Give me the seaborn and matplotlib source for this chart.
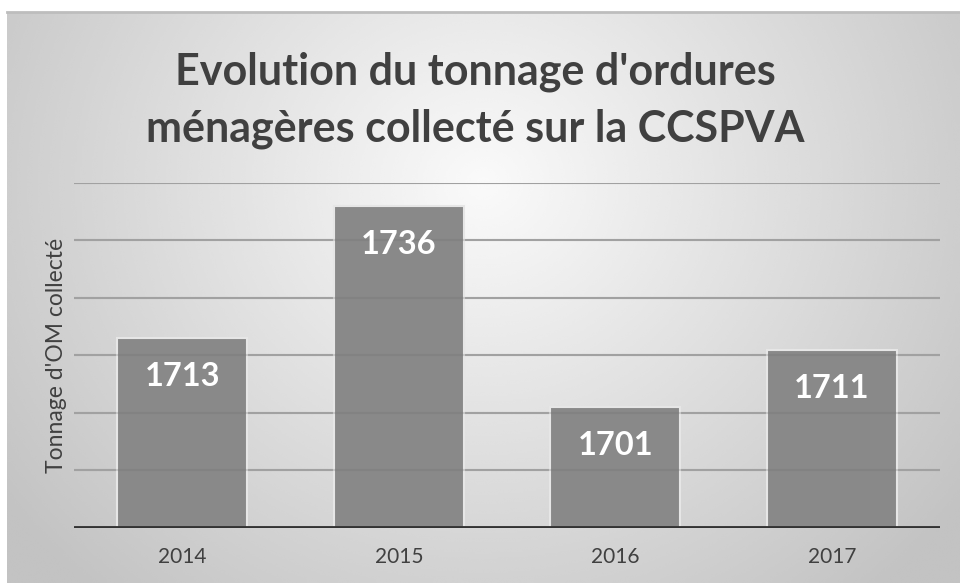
import numpy as np
import pandas as pd
import seaborn as sns
from matplotlib import pyplot as plt

years = ['2014', '2015', '2016', '2017']
tonnage = [1713, 1736, 1701, 1711]
grid_ticks = [1690, 1700, 1710, 1720, 1730, 1740]

title = "Evolution du tonnage d'ordures\nménagères collecté sur la CCSPVA"
y_label = "Tonnage d'OM collecté"

sns.set_theme(style='white')
plt.rcParams['font.family'] = ['Lato', 'DejaVu Sans']

df = pd.DataFrame({'annee': years, 'tonnage': tonnage})

fig = plt.figure(figsize=(9.6, 5.85), dpi=100)
fig.patch.set_facecolor('white')

# fond en degrade radial, comme dans Excel
bg = fig.add_axes([7 / 960, 2 / 585, 953 / 960, 571 / 585])
yy, xx = np.mgrid[0:1:300j, 0:1:500j]
d = np.sqrt(((xx - 0.5) / 0.62) ** 2 + ((yy - 0.3) / 0.95) ** 2)
bg.imshow(250 - 55 * np.clip(d, 0, 1), cmap='gray', vmin=0, vmax=255,
          aspect='auto', extent=(0, 1, 1, 0), interpolation='bicubic')
bg.set_xticks([])
bg.set_yticks([])
for side in ['left', 'right', 'bottom']:
    bg.spines[side].set_visible(False)
bg.spines['top'].set_color('#bdbdbd')
bg.spines['top'].set_linewidth(2)

ax = fig.add_axes([74 / 960, 57.5 / 585, 866 / 960, 344.5 / 585])
ax.set_facecolor('none')
sns.barplot(data=df, x='annee', y='tonnage', color='#898989', saturation=1,
            width=0.6, edgecolor='#e6e6e6', linewidth=1.5, ax=ax, zorder=3)
ax.set_ylim(1680, 1740)
ax.set_xlim(-0.5, 3.5)
ax.set_yticks(grid_ticks)
ax.set_yticklabels([])
for g in grid_ticks:
    ax.axhline(g, color='#b3b3b3', linewidth=1.5, zorder=1)
    # les barres sont un peu transparentes : la grille se devine dessous
    ax.axhline(g, color='#6e6e6e', linewidth=1.5, alpha=0.25, zorder=3.5)
ax.axhline(1680, color='#333333', linewidth=3.5, zorder=4)
for side in ['left', 'right', 'top', 'bottom']:
    ax.spines[side].set_visible(False)
ax.tick_params(axis='both', length=0)
ax.tick_params(axis='x', labelsize=15, labelcolor='#404040', pad=14)

for i, v in enumerate(tonnage):
    ax.annotate(str(v), (i, v), xytext=(0, -28), textcoords='offset points',
                ha='center', va='center', fontsize=23.5, fontweight='bold',
                color='white', zorder=5)

ax.set_xlabel('')
ax.set_ylabel(y_label, fontsize=16.5, color='#404040')
ax.yaxis.set_label_coords(-0.008, 0.5)

fig.text(0.495, 0.828, title, ha='center', va='center', fontsize=31,
         fontweight='bold', color='#404040', linespacing=1.5)

plt.savefig('out.png', dpi=100)
